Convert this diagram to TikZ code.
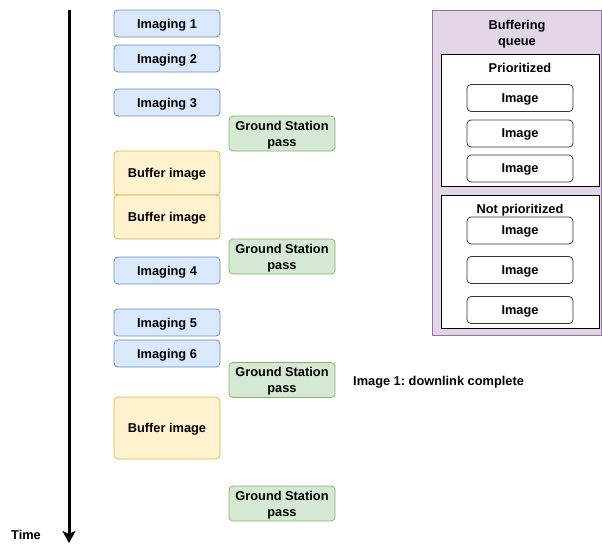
\documentclass[tikz,border=0pt]{standalone}
\usepackage{fontspec}
\setmainfont{Liberation Sans}
\usetikzlibrary{arrows.meta}
\frenchspacing
\definecolor{imgfill}{HTML}{DAE8FC}
\definecolor{imgdraw}{HTML}{6C8EBF}
\definecolor{gsfill}{HTML}{D5E8D4}
\definecolor{gsdraw}{HTML}{82B366}
\definecolor{buffill}{HTML}{FFF2CC}
\definecolor{bufdraw}{HTML}{D6B656}
\definecolor{queuefill}{HTML}{E1D5E7}
\definecolor{queuedraw}{HTML}{9673A6}
\tikzset{
  box/.style={draw, rounded corners=4pt, line width=0.75pt, inner sep=0pt,
    minimum width=106pt, align=center, text depth=0pt,
    font=\fontsize{12.8}{16}\selectfont\bfseries},
  imaging/.style={box, fill=imgfill, draw=imgdraw, minimum height=27pt},
  gspass/.style={box, fill=gsfill, draw=gsdraw, minimum height=35pt},
  buffer/.style={box, fill=buffill, draw=bufdraw},
  queued/.style={box, fill=white, draw=black!80, minimum height=27pt},
  lbl/.style={inner sep=0pt, align=center, text depth=0pt, font=\fontsize{12.8}{16}\selectfont\bfseries}
}
\begin{document}
\begin{tikzpicture}[x=1pt, y=-1pt]
  \useasboundingbox (0,0) rectangle (602,544);

  % time axis
  \coordinate (tstart) at (69,10);
  \coordinate (tend) at (69,543);
  \draw [line width=3pt, -{Stealth[length=12pt, width=13pt, inset=3pt]}] (tstart) -- (tend);
  \node [lbl] (time) at (26,535) {Time};

  % imaging slots
  \node [imaging] (img1) at (167,23.5) {Imaging 1};
  \node [imaging] (img2) at (167,58.5) {Imaging 2};
  \node [imaging] (img3) at (167,102.5) {Imaging 3};
  \node [imaging] (img4) at (167,270.5) {Imaging 4};
  \node [imaging] (img5) at (167,322.5) {Imaging 5};
  \node [imaging] (img6) at (167,353.5) {Imaging 6};

  % buffering slots
  \node [buffer, minimum height=44pt] (buf1) at (167,173) {Buffer image};
  \node [buffer, minimum height=44pt] (buf2) at (167,217) {Buffer image};
  \node [buffer, minimum height=62pt] (buf3) at (167,428) {Buffer image};

  % ground station passes
  \node [gspass] (gs1) at (282,133.5) {Ground Station\\pass};
  \node [gspass] (gs2) at (282,256.5) {Ground Station\\pass};
  \node [gspass] (gs3) at (282,380) {Ground Station\\pass};
  \node [gspass] (gs4) at (282,503.5) {Ground Station\\pass};

  \node [lbl, anchor=west] (done) at (353,381) {Image 1: downlink complete};

  % buffering queue
  \draw [fill=queuefill, draw=queuedraw, line width=0.75pt] (432,10) rectangle (601,335); % Draws a rectangle
  \node [lbl] (qtitle) at (517,33) {Buffering\\queue};

  \draw [fill=white, line width=0.75pt] (441,54) rectangle (599,186); % Draws a rectangle
  \node [lbl] (prio) at (520,68) {Prioritized};
  \node [queued] (p1) at (520,98) {Image};
  \node [queued] (p2) at (520,133.5) {Image};
  \node [queued] (p3) at (520,168.5) {Image};

  \draw [fill=white, line width=0.75pt] (441,195) rectangle (599,328); % Draws a rectangle
  \node [lbl] (noprio) at (520,209) {Not prioritized};
  \node [queued] (n1) at (520,230.5) {Image};
  \node [queued] (n2) at (520,270) {Image};
  \node [queued] (n3) at (520,310) {Image};
\end{tikzpicture}
\end{document}
